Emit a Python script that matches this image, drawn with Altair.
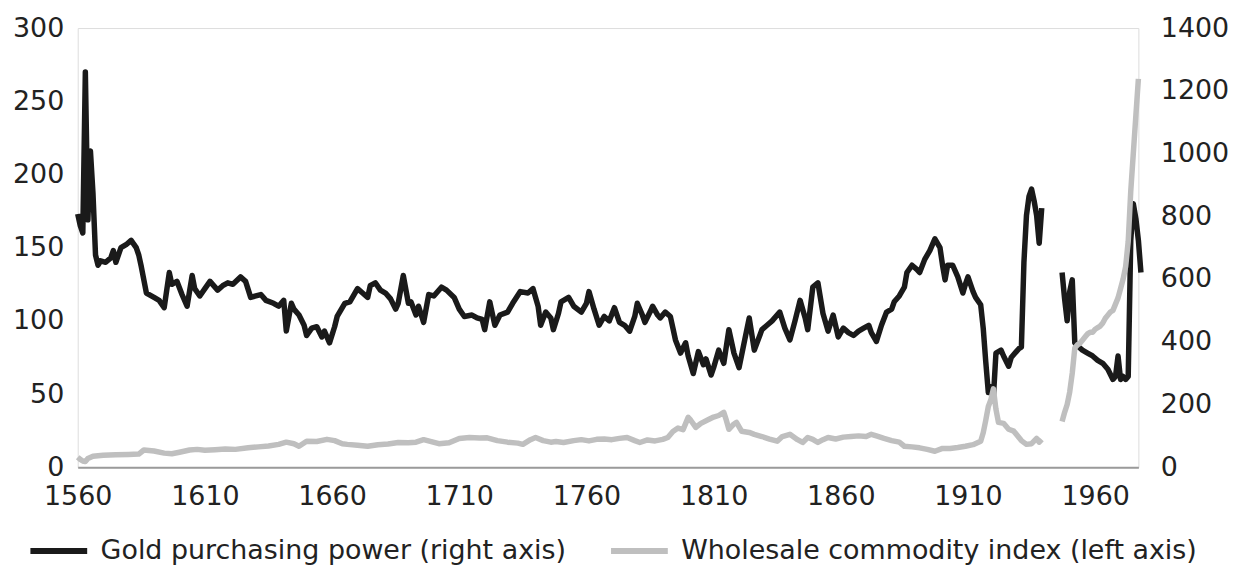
import altair as alt
import pandas as pd

# ---------------- data ----------------
series_names = ["Gold purchasing power (right axis)", "Wholesale commodity index (left axis)"]

gold_years = [1560, 1561, 1562, 1563, 1564, 1565, 1566, 1567, 1568, 1569, 1571, 1573, 1574, 1575, 1577, 1579,
              1581, 1583, 1584, 1585, 1587, 1590, 1592, 1594, 1596, 1597, 1599, 1601, 1603, 1605, 1606, 1608,
              1610, 1612, 1615, 1617, 1619, 1621, 1624, 1626, 1628, 1630, 1632, 1634, 1637, 1639, 1641, 1642,
              1644, 1645, 1647, 1649, 1650, 1652, 1654, 1656, 1657, 1659, 1661, 1662, 1665, 1667, 1670, 1672,
              1674, 1675, 1677, 1679, 1681, 1683, 1685, 1686, 1688, 1690, 1691, 1693, 1694, 1696, 1698, 1700,
              1703, 1705, 1708, 1710, 1712, 1715, 1717, 1719, 1720, 1722, 1724, 1726, 1729, 1731, 1734, 1737,
              1739, 1741, 1742, 1744, 1746, 1747, 1749, 1750, 1753, 1755, 1758, 1760, 1761, 1763, 1765, 1767,
              1769, 1771, 1773, 1775, 1777, 1779, 1780, 1782, 1783, 1785, 1786, 1788, 1789, 1791, 1793, 1794,
              1795, 1797, 1799, 1800, 1802, 1804, 1806, 1807, 1809, 1810, 1812, 1814, 1816, 1818, 1820, 1822,
              1824, 1826, 1829, 1831, 1833, 1836, 1838, 1840, 1842, 1844, 1846, 1847, 1849, 1851, 1853, 1855,
              1857, 1859, 1861, 1863, 1865, 1867, 1869, 1871, 1872, 1874, 1876, 1878, 1880, 1881, 1883, 1885,
              1886, 1888, 1890, 1891, 1893, 1895, 1897, 1899, 1900, 1901, 1902, 1904, 1906, 1908, 1909, 1910,
              1912, 1913, 1915, 1916, 1917, 1918, 1919, 1920, 1921, 1923, 1924, 1926, 1927, 1929, 1930, 1931,
              1932, 1933, 1934, 1935, 1936, 1937, 1938, 1939,
              1947, 1948, 1949, 1950, 1951, 1952, 1953, 1955, 1957, 1959, 1961, 1963, 1965, 1967, 1968, 1969,
              1970, 1971, 1972, 1973, 1974, 1975, 1976, 1977, 1978]
gold_values = [173, 165, 160, 270, 169, 216, 187, 145, 138, 141, 140, 143, 148, 140, 150, 152,
               155, 150, 145, 137, 119, 116, 114, 109, 133, 125, 127, 118, 110, 131, 122, 117,
               122, 127, 121, 124, 126, 125, 130, 127, 116, 117, 118, 114, 112, 110, 114, 93,
               112, 108, 104, 97, 90, 95, 96, 89, 93, 85, 96, 103, 112, 113, 122, 119,
               116, 124, 126, 121, 119, 115, 108, 112, 131, 112, 113, 104, 110, 99, 118, 117,
               123, 121, 116, 108, 103, 104, 102, 101, 94, 113, 97, 104, 106, 112, 120, 119,
               122, 110, 97, 106, 102, 94, 105, 113, 116, 110, 106, 112, 120, 108, 97, 103,
               100, 109, 99, 97, 93, 103, 112, 104, 99, 106, 110, 104, 102, 106, 103, 95,
               87, 78, 85, 76, 64, 79, 70, 74, 63, 68, 80, 71, 94, 78, 68, 85,
               102, 80, 94, 97, 100, 106, 95, 87, 100, 114, 102, 94, 123, 126, 105, 93,
               104, 89, 95, 92, 90, 93, 95, 97, 92, 86, 97, 106, 108, 113, 117, 123,
               133, 138, 135, 133, 142, 148, 156, 150, 138, 128, 138, 138, 130, 119, 125, 130,
               120, 116, 111, 95, 72, 51, 55, 48, 78, 80, 76, 69, 75, 79, 81, 82,
               140, 172, 185, 190, 182, 172, 153, 177,
               133, 115, 100, 120, 128, 85, 83, 80, 78, 76, 73, 71, 67, 60, 62, 76,
               60, 62, 60, 62, 155, 180, 170, 155, 133]

commodity_years = [1560, 1561, 1562, 1563, 1564, 1566, 1570, 1575, 1580, 1584, 1586, 1590, 1594, 1597, 1600,
                   1604, 1607, 1610, 1614, 1618, 1622, 1627, 1631, 1635, 1639, 1642, 1645, 1647, 1650, 1654,
                   1658, 1661, 1664, 1666, 1670, 1674, 1678, 1682, 1686, 1690, 1693, 1696, 1699, 1702, 1706,
                   1710, 1714, 1718, 1721, 1725, 1729, 1733, 1735, 1738, 1740, 1743, 1746, 1748, 1751, 1755,
                   1758, 1761, 1764, 1767, 1770, 1773, 1776, 1779, 1781, 1784, 1787, 1790, 1792, 1794, 1796,
                   1798, 1800, 1801, 1803, 1805, 1808, 1810, 1812, 1814, 1815, 1816, 1818, 1819, 1821, 1824,
                   1826, 1829, 1832, 1835, 1837, 1840, 1843, 1845, 1847, 1849, 1851, 1853, 1855, 1858, 1861,
                   1864, 1867, 1870, 1872, 1874, 1877, 1880, 1883, 1885, 1888, 1891, 1894, 1897, 1900, 1903,
                   1906, 1909, 1912, 1915, 1916, 1917, 1918, 1919, 1920, 1921, 1922, 1924, 1926, 1928, 1929,
                   1931, 1933, 1935, 1937, 1938, 1939,
                   1947, 1948, 1949, 1950, 1951, 1952, 1953, 1954, 1955, 1956, 1957, 1958, 1959, 1960, 1961,
                   1962, 1963, 1964, 1965, 1966, 1967, 1968, 1969, 1970, 1971, 1972, 1973, 1974, 1975, 1976,
                   1977]
commodity_values = [32, 25, 20, 18, 28, 35, 38, 40, 41, 42, 55, 52, 45, 43, 48,
                    55, 57, 54, 56, 58, 57, 62, 65, 68, 73, 80, 75, 67, 83, 82,
                    89, 85, 75, 73, 70, 67, 72, 74, 79, 78, 80, 88, 82, 75, 78,
                    92, 95, 93, 94, 85, 80, 77, 73, 88, 95, 85, 80, 82, 79, 85,
                    88, 84, 89, 90, 88, 92, 95, 85, 79, 87, 84, 89, 95, 114, 125,
                    120, 159, 150, 127, 140, 152, 160, 165, 175, 150, 121, 138, 143, 115, 111,
                    105, 98, 90, 83, 98, 105, 88, 79, 95, 89, 79, 88, 95, 90, 96,
                    98, 100, 98, 105, 100, 92, 85, 80, 67, 65, 62, 57, 51, 60, 60,
                    63, 67, 72, 83, 110, 150, 194, 215, 250, 185, 143, 140, 121, 115, 105,
                    85, 73, 75, 92, 80, 89,
                    146, 175, 200, 240, 300, 380, 390, 395, 405, 415, 425, 430, 430, 440, 445,
                    450, 460, 475, 485, 495, 500, 520, 540, 570, 600, 640, 720, 880, 1000, 1120,
                    1238]

x_ticks = [1560, 1610, 1660, 1710, 1760, 1810, 1860, 1910, 1960]
left_ticks = [0, 50, 100, 150, 200, 250, 300]
right_ticks = [0, 200, 400, 600, 800, 1000, 1200, 1400]
war_gap_year = 1940

gold = pd.DataFrame({"year": gold_years, "value": gold_values})
gold["series"] = series_names[0]
gold["segment"] = ["pre" if y < war_gap_year else "post" for y in gold_years]

commodity = pd.DataFrame({"year": commodity_years, "value": commodity_values})
commodity["series"] = series_names[1]
commodity["segment"] = ["pre" if y < war_gap_year else "post" for y in commodity_years]

# ---------------- styling ----------------
FONT = "DejaVu Sans"
FS = 27
TXT = "#222222"

x_enc = alt.X(
    "year:Q",
    scale=alt.Scale(domain=[1560, 1977], nice=False, zero=False),
    axis=alt.Axis(values=x_ticks, format="d", ticks=False, grid=False, labelFlush=False,
                  domainColor="#9a9a9a", domainWidth=2, labelFontSize=FS, labelFont=FONT,
                  labelColor=TXT, labelPadding=16, title=None),
)

color_enc = alt.Color(
    "series:N",
    scale=alt.Scale(domain=series_names, range=["#1a1a1a", "#bfbfbf"]),
    legend=alt.Legend(orient="none", legendX=-51, legendY=493, direction="horizontal",
                      symbolType="stroke", symbolSize=3250, symbolStrokeWidth=6,
                      labelFontSize=FS, labelFont=FONT, labelColor=TXT, labelOffset=10,
                      columnPadding=32, padding=0, labelLimit=800, title=None),
)

gold_line = alt.Chart(gold).mark_line(strokeWidth=5.5, strokeJoin="round").encode(
    x=x_enc,
    y=alt.Y("value:Q", scale=alt.Scale(domain=[0, 300], nice=False),
            axis=alt.Axis(values=left_ticks, format="d", orient="left", domain=False, ticks=False,
                          grid=False, labelFontSize=FS, labelFont=FONT, labelColor=TXT,
                          labelPadding=14, title=None)),
    color=color_enc,
    detail="segment:N",
)

commodity_line = alt.Chart(commodity).mark_line(strokeWidth=5.5, strokeJoin="round").encode(
    x=x_enc,
    y=alt.Y("value:Q", scale=alt.Scale(domain=[0, 1400], nice=False),
            axis=alt.Axis(values=right_ticks, format="d", orient="right", domain=False, ticks=False,
                          grid=False, labelFontSize=FS, labelFont=FONT, labelColor=TXT,
                          labelPadding=22, title=None)),
    color=color_enc,
    detail="segment:N",
)

chart = (
    alt.layer(gold_line, commodity_line)
    .resolve_scale(y="independent")
    .properties(
        width=1065, height=441,
        autosize=alt.AutoSizeParams(type="none"),
        padding={"left": 70, "top": 19, "right": 95, "bottom": 97},
    )
    .configure_view(stroke="transparent")
    .configure(background="white")
)

chart.save("out.html", embed_options={"renderer": "svg", "actions": False})
